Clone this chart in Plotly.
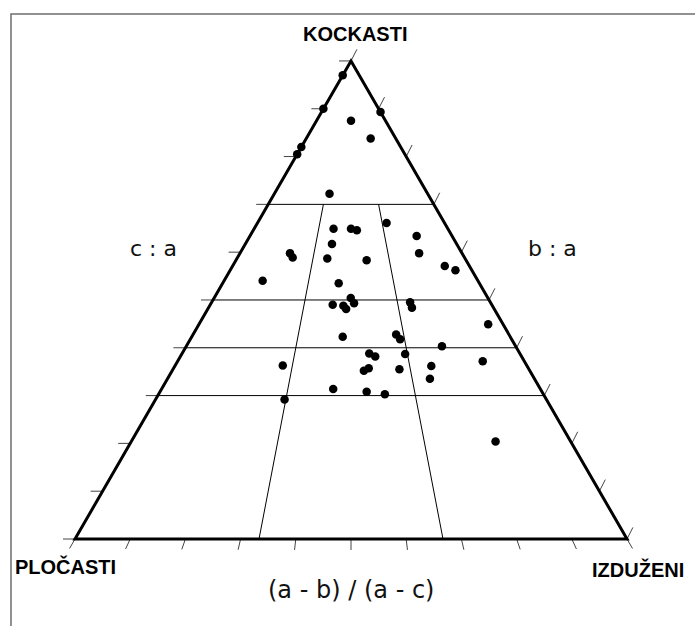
import math
import plotly.graph_objects as go

# ---- data: shape indices ----
# c/a (vertical position, 0 at base, 1 at apex)
c_a = [0.97, 0.90, 0.82, 0.805, 0.875, 0.838, 0.893, 0.722, 0.649, 0.649,
       0.646, 0.661, 0.617, 0.598, 0.589, 0.587, 0.583, 0.634, 0.598, 0.571,
       0.562, 0.540, 0.535, 0.490, 0.488, 0.481, 0.504, 0.493, 0.495, 0.484,
       0.449, 0.423, 0.428, 0.418, 0.403, 0.388, 0.382, 0.387, 0.363, 0.352,
       0.357, 0.355, 0.362, 0.335, 0.372, 0.314, 0.308, 0.303, 0.292, 0.204]
# (a-b)/(a-c) (position across the row, 0 = left edge, 1 = right edge)
ab_ac = [0.00, 0.00, 0.00, 0.00, 0.50, 0.72, 1.00, 0.36, 0.41, 0.50,
         0.53, 0.69, 0.41, 0.225, 0.243, 0.396, 0.568, 0.825, 0.807, 0.896,
         0.932, 0.152, 0.452, 0.435, 0.473, 0.483, 0.499, 0.511, 0.712, 0.714,
         0.951, 0.474, 0.643, 0.653, 0.776, 0.554, 0.571, 0.660, 0.306, 0.536,
         0.550, 0.636, 0.728, 0.715, 0.880, 0.453, 0.541, 0.588, 0.330, 0.829]

class_ca = [0.7, 0.5, 0.4, 0.3]          # horizontal class boundaries (c/a)
class_abac = [1 / 3, 2 / 3]              # slanted class boundaries ((a-b)/(a-c))
class_abac_top = 0.7                      # slanted lines end at this c/a
tick_vals = [0.0, 0.1, 0.2, 0.3, 0.4, 0.5, 0.6, 0.7, 0.8, 0.9, 1.0]

apex_label = "KOCKASTI"
left_label = "PLOČASTI"
right_label = "IZDUŽENI"
left_axis_label = "c : a"
right_axis_label = "b : a"
bottom_axis_label = "(a - b) / (a - c)"

H = math.sqrt(3) / 2


def to_xy(t, p):
    """c/a = t, (a-b)/(a-c) = p  ->  cartesian position in the triangle"""
    return t / 2 + p * (1 - t), t * H


W, HT = 695, 626
PX = 552.0           # pixels per unit
X0, Y0 = 75.0, 539.0  # pixel position of the lower-left corner


def px(xpix, ypix):
    return (xpix - X0) / PX, (Y0 - ypix) / PX


xs, ys = zip(*[to_xy(t, p) for t, p in zip(c_a, ab_ac)])

fig = go.Figure()
fig.add_trace(go.Scatter(x=xs, y=ys, mode="markers",
                         marker=dict(color="black", size=8.5, line=dict(width=0)),
                         hoverinfo="skip", showlegend=False))

shapes = []
# outer frame
shapes.append(dict(type="rect", xref="paper", yref="paper",
                   x0=11 / W, x1=1.05, y0=-0.05, y1=1 - 14 / HT,
                   line=dict(color="#6e6e6e", width=1.5), layer="below"))

thin = dict(color="black", width=1)
tickline = dict(color="#444444", width=1)

# horizontal class lines
for t in class_ca:
    xa, ya = to_xy(t, 0)
    xb, yb = to_xy(t, 1)
    shapes.append(dict(type="line", x0=xa, y0=ya, x1=xb, y1=yb, line=thin, layer="below"))
# slanted class lines
for p in class_abac:
    xa, ya = to_xy(0, p)
    xb, yb = to_xy(class_abac_top, p)
    shapes.append(dict(type="line", x0=xa, y0=ya, x1=xb, y1=yb, line=thin, layer="below"))

# ticks
L_left = 12 / PX
L_bot = 11 / PX
L_right = 13 / PX
ang = math.radians(63)
for v in tick_vals:
    # left edge: horizontal ticks pointing left
    xa, ya = to_xy(v, 0)
    shapes.append(dict(type="line", x0=xa - L_left, y0=ya, x1=xa, y1=ya, line=tickline, layer="below"))
    # right edge: slanted ticks pointing up-right
    xa, ya = to_xy(v, 1)
    shapes.append(dict(type="line", x0=xa, y0=ya, x1=xa + L_right * math.cos(ang),
                       y1=ya + L_right * math.sin(ang), line=tickline, layer="below"))
    # bottom edge: ticks radiating from the apex
    xa, ya = to_xy(0, v)
    dx, dy = xa - 0.5, -H
    n = math.hypot(dx, dy)
    shapes.append(dict(type="line", x0=xa, y0=ya, x1=xa + L_bot * dx / n,
                       y1=ya + L_bot * dy / n, line=tickline, layer="below"))

# triangle outline
(ax_, ay_), (bx_, by_), (cx_, cy_) = to_xy(0, 0), to_xy(0, 1), to_xy(1, 0)
shapes.append(dict(type="path",
                   path=f"M {ax_},{ay_} L {bx_},{by_} L {cx_},{cy_} Z",
                   line=dict(color="black", width=3), layer="below"))

bold = dict(family="Liberation Sans, Arial, sans-serif", size=20, color="black", weight="bold")
reg = dict(family="DejaVu Sans, sans-serif", color="#111111")

ann = []


def add_text(text, xpix, ypix, font):
    x, y = px(xpix, ypix)
    ann.append(dict(text=text, x=x, y=y, xref="x", yref="y", showarrow=False,
                    xanchor="center", yanchor="middle", font=font))


add_text(apex_label, 355, 34, bold)
add_text(left_label, 65.5, 566, bold)
add_text(right_label, 637.5, 569, bold)
add_text(left_axis_label, 153, 248, dict(reg, size=22))
add_text(right_axis_label, 552, 248, dict(reg, size=22))
add_text(bottom_axis_label, 351, 590, dict(reg, size=24))

xr0, _ = px(0, 0)
xr1, _ = px(W, 0)
_, yr1 = px(0, 0)
_, yr0 = px(0, HT)

fig.update_layout(
    width=W, height=HT, autosize=False,
    margin=dict(l=0, r=0, t=0, b=0, pad=0),
    paper_bgcolor="white", plot_bgcolor="white",
    xaxis=dict(range=[xr0, xr1], visible=False, fixedrange=True),
    yaxis=dict(range=[yr0, yr1], visible=False, fixedrange=True),
    shapes=shapes, annotations=ann, showlegend=False,
)

fig.write_html(
    "out.html",
    config={"displayModeBar": False},
    post_script="document.body.style.margin='0';document.body.style.overflow='hidden';",
)
